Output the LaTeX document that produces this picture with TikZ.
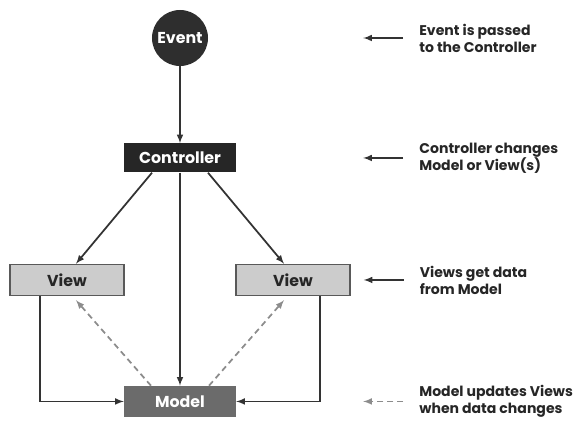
\documentclass[tikz,border=0pt]{standalone}
\usepackage{fontspec}
\setmainfont{Poppins}
\usetikzlibrary{shapes.geometric, arrows, positioning}

\begin{document}
\begin{tikzpicture}[
    % pixel grid of the original figure
    x=0.03cm, y=-0.03cm,
    base/.style={rectangle, align=center, inner sep=0pt, font=\bfseries\fontsize{13.5}{15}\selectfont},
    event/.style={base, circle, fill=black!82, text=white, minimum size=1.68cm},
    ctrl/.style={base, fill=black!85, text=white, minimum width=3.36cm, minimum height=0.87cm},
    view/.style={base, draw=black!65, fill=black!20, line width=0.45mm, minimum width=3.42cm, minimum height=0.93cm, text=black!85},
    model/.style={base, fill=black!58, text=white, minimum width=3.36cm, minimum height=0.93cm},
    note/.style={align=left, anchor=west, font=\bfseries\fontsize{12}{14.5}\selectfont, text=black!85},
    arrow/.style={line width=1.5pt,->,>=latex, draw=black!80},
    update/.style={arrow, dash pattern=on 5pt off 3.5pt, draw=black!45}
]
\useasboundingbox (0,0) rectangle (579,423);

%% -- MVC nodes -----------------------------------------------
\node (event) [event] at (180,38) {Event};
\node (ctrl) [ctrl, below=2.31cm of event] {Controller};
\node (viewL) [view, below=2.73cm of ctrl, xshift=-3.39cm] {View};
\node (viewR) [view, below=2.73cm of ctrl, xshift=3.39cm] {View};
\node (model) [model, below=6.39cm of ctrl] {Model};

%% -- Connectors ----------------------------------------------
\draw [arrow] (event) -- (ctrl);
\draw [arrow] (ctrl) -- (model);
\draw [arrow] ([xshift=-0.84cm]ctrl.south) -- ([xshift=0.27cm]viewL.north);
\draw [arrow] ([xshift=0.84cm]ctrl.south) -- ([xshift=-0.27cm]viewR.north);
\draw [arrow] ([xshift=-0.81cm]viewL.south) |- (model.west);
\draw [arrow] ([xshift=0.81cm]viewR.south) |- (model.east);
\draw [update] ([xshift=-0.87cm]model.north) -- ([xshift=0.27cm,yshift=-0.12cm]viewL.south);
\draw [update] ([xshift=0.87cm]model.north) -- ([xshift=-0.27cm,yshift=-0.12cm]viewR.south);

%% -- Legend --------------------------------------------------
\node (n1) [note, right=6.21cm of event] {Event is passed\\to the Controller};
\node (n2) [note, right=5.37cm of ctrl] {Controller changes\\Model or View(s)};
\node (n3) [note, right=1.95cm of viewR] {Views get data\\from Model};
\node (n4) [note, right=5.37cm of model] {Model updates Views\\when data changes};

\coordinate (a1) at ([xshift=-1.56cm]n1.west);
\coordinate (a2) at ([xshift=-1.56cm]n2.west);
\coordinate (a3) at ([xshift=-1.56cm]n3.west);
\coordinate (a4) at ([xshift=-1.56cm]n4.west);
\draw [arrow] ([xshift=-0.36cm]n1.west) -- (a1);
\draw [arrow] ([xshift=-0.36cm]n2.west) -- (a2);
\draw [arrow] ([xshift=-0.36cm]n3.west) -- (a3);
\draw [update] ([xshift=-0.36cm]n4.west) -- (a4);

\end{tikzpicture}
\end{document}
